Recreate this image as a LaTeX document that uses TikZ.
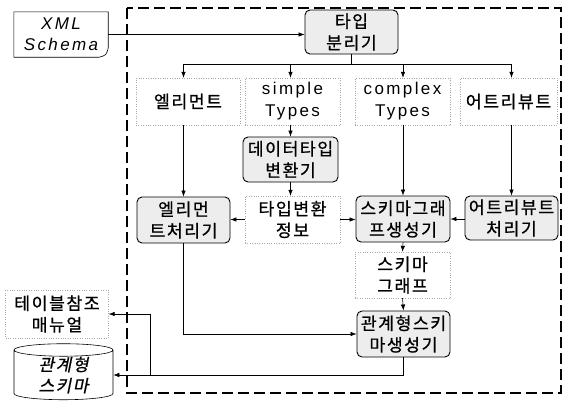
\documentclass[tikz,border=0pt]{standalone}
\usepackage{fontspec}
\usepackage{tikz}
\usetikzlibrary{arrows.meta,positioning,calc,shapes.geometric}
\newfontfamily\kr[LetterSpace=9,FakeBold=0.8]{Noto Sans CJK KR}
\newfontfamily\krit[LetterSpace=9,FakeBold=0.8,FakeSlant=0.2]{Noto Sans CJK KR}
\newfontfamily\lat[LetterSpace=14]{Liberation Sans}
\definecolor{boxfill}{HTML}{EDEDED}
\definecolor{dotline}{HTML}{A8A8A8}

\begin{document}
\begin{tikzpicture}[x=1pt,y=-1pt,
    proc/.style={draw,rounded corners=5pt,fill=boxfill,line width=0.9pt,align=center,
      inner sep=0pt,font=\kr\fontsize{17.2}{21.5}\selectfont},
    data/.style={draw=dotline,dotted,align=center,inner sep=0pt,
      font=\kr\fontsize{17.2}{21.5}\selectfont},
    flow/.style={-{Latex[length=6pt,width=4.5pt]},line width=0.6pt}]
  \useasboundingbox (0,0) rectangle (566,405);
  % system border
  \draw[line width=1.3pt,dash pattern=on 11pt off 5pt] (127,8) rectangle (561,393);
  % input document
  \node[minimum width=94pt,minimum height=45pt,inner sep=0pt,align=center,
    font=\lat\itshape\fontsize{17}{21}\selectfont] (xml) at (61,34.5) {XML\\Schema};
  \draw[line width=0.6pt] (xml.north west) -- (xml.north east) -- ([yshift=9pt]xml.south east)
    .. controls ([xshift=-2pt,yshift=2pt]xml.south east) .. ([xshift=-9pt]xml.south east)
    -- (xml.south west) -- cycle;
  % processors
  \node[proc,minimum width=93pt,minimum height=44pt] (sep) at (351.5,32) {타입\\분리기};
  \node[data,minimum width=104pt,minimum height=47pt] (elem) at (188,101.5) {엘리먼트};
  \node[data,minimum width=95pt,minimum height=47pt,font=\lat\fontsize{17}{22}\selectfont]
    (simp) at (292.5,101.5) {simple\\Types};
  \node[data,minimum width=95pt,minimum height=47pt,font=\lat\fontsize{17}{22}\selectfont]
    (comp) at (402.5,101.5) {complex\\Types};
  \node[data,minimum width=97pt,minimum height=47pt] (attr) at (508.5,101.5) {어트리뷰트};
  \node[proc,minimum width=95pt,minimum height=45pt] (conv) at (290.5,159.5) {데이터타입\\변환기};
  \node[proc,minimum width=93pt,minimum height=46pt] (eproc) at (183.5,220) {엘리먼\\트처리기};
  \node[data,minimum width=95pt,minimum height=47pt] (tinfo) at (292.5,219.5) {타입변환\\정보};
  \node[proc,minimum width=94pt,minimum height=46pt] (sgen) at (403,219) {스키마그래\\프생성기};
  \node[proc,minimum width=93pt,minimum height=44pt] (aproc) at (511.5,218) {어트리뷰트\\처리기};
  \node[data,minimum width=95pt,minimum height=46pt] (graph) at (402.5,275) {스키마\\그래프};
  \node[proc,minimum width=93pt,minimum height=46pt] (rgen) at (403.5,334) {관계형스키\\마생성기};
  % outputs
  \node[data,minimum width=103pt,minimum height=48pt] (manual) at (57,314) {테이블참조\\매뉴얼};
  \node[draw,cylinder,shape border rotate=90,aspect=0.25,minimum width=99pt,minimum height=56pt,
    inner sep=0pt,align=center,line width=0.6pt,font=\krit\fontsize{17}{21}\selectfont]
    (db) at (63.5,375) {관계형\\스키마};
  % connectors
  \draw[flow] (xml.east) -- (xml.east -| sep.west);
  \coordinate (split) at ($(sep.south)+(0,10)$);
  \draw[line width=0.6pt] (sep.south) -- (split);
  \draw[line width=0.6pt] (split -| eproc.north) -- (split -| aproc.north);
  \draw[flow] (split -| eproc.north) -- (eproc.north |- elem.north);
  \draw[flow] (split -| conv.north) -- (conv.north |- simp.north);
  \draw[flow] (split -| sgen.north) -- (sgen.north |- comp.north);
  \draw[flow] (split -| aproc.north) -- (aproc.north |- attr.north);
  \draw[flow] (eproc.north |- elem.south) -- (eproc.north);
  \draw[flow] (conv.north |- simp.south) -- (conv.north);
  \draw[flow] (conv.south) -- (conv.south |- tinfo.north);
  \draw[flow] (sgen.north |- comp.south) -- (sgen.north);
  \draw[flow] (aproc.north |- attr.south) -- (aproc.north);
  \draw[flow] (tinfo.west) -- (tinfo.west -| eproc.east);
  \draw[flow] (tinfo.east) -- (tinfo.east -| sgen.west);
  \draw[flow] (aproc.west |- sgen.east) -- (sgen.east);
  \draw[flow] (sgen.south) -- (graph.north);
  \draw[flow] (graph.south) -- (rgen.north);
  \draw[flow] (eproc.south) |- (rgen.west);
  \draw[flow] (rgen.south) |- (db.east);
  \path (db.east) ++(37,0) coordinate (branch);
  \draw[flow] (branch) |- (manual.east);
\end{tikzpicture}
\end{document}
